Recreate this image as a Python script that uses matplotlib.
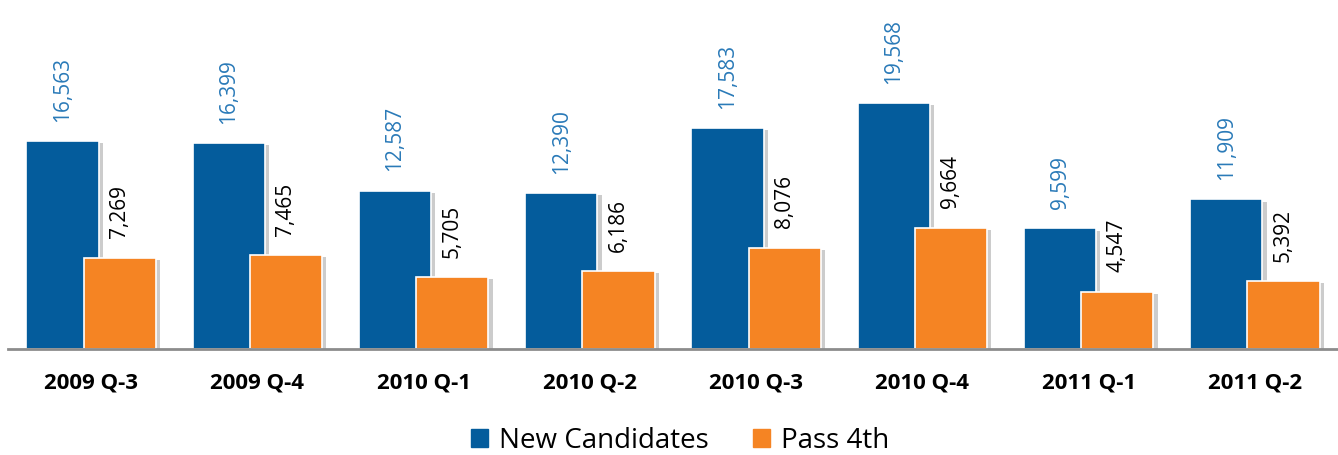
import numpy as np
import matplotlib.pyplot as plt
import matplotlib.patheffects as pe
from matplotlib.patches import Patch

quarters = ["2009 Q-3", "2009 Q-4", "2010 Q-1", "2010 Q-2",
            "2010 Q-3", "2010 Q-4", "2011 Q-1", "2011 Q-2"]
new_candidates = [16563, 16399, 12587, 12390, 17583, 19568, 9599, 11909]
pass_4th = [7269, 7465, 5705, 6186, 8076, 9664, 4547, 5392]

blue = "#045C9C"
orange = "#F58423"

plt.rcParams['font.family'] = ['Open Sans', 'DejaVu Sans']

fig = plt.figure(figsize=(13.38, 4.55), dpi=100)
ax = fig.add_axes([8 / 1338, 1 - 349 / 455, 1330 / 1338, 349 / 455])

x = np.arange(len(quarters))
w = 0.435
off = 0.172
shadow = [pe.SimplePatchShadow(offset=(3, -1.5), shadow_rgbFace="#9a9a9a", alpha=0.5), pe.Normal()]

ax.bar(x - off, new_candidates, w, color=blue, edgecolor="white", linewidth=1.2,
       path_effects=shadow, zorder=2)
ax.bar(x + off, pass_4th, w, color=orange, edgecolor="white", linewidth=1.2,
       path_effects=shadow, zorder=3)

for xi, v in zip(x, new_candidates):
    ax.annotate(f"{v:,}", (xi - off, v), xytext=(0, 14), textcoords="offset points",
                rotation=90, ha="center", va="bottom", fontsize=15, color="#2A7AB8")
for xi, v in zip(x, pass_4th):
    ax.annotate(f"{v:,}", (xi + off, v), xytext=(0, 14), textcoords="offset points",
                rotation=90, ha="center", va="bottom", fontsize=15, color="black")

ax.set_xlim(-0.5, len(quarters) - 0.5)
ax.set_ylim(0, 27790)
ax.set_yticks([])
ax.set_xticks(x)
ax.set_xticklabels(quarters, fontsize=16, fontweight="bold")
ax.tick_params(axis="x", length=0, pad=17)
for s in ["top", "right", "left"]:
    ax.spines[s].set_visible(False)
ax.spines["bottom"].set_color("#8c8c8c")
ax.spines["bottom"].set_linewidth(2)
ax.spines["bottom"].set_zorder(5)

handles = [Patch(color=blue, label="New Candidates"), Patch(color=orange, label="Pass 4th")]
fig.legend(handles=handles, loc="center", bbox_to_anchor=(680 / 1338, 1 - 441 / 455),
           ncol=2, frameon=False, fontsize=20, handlelength=0.6, handleheight=0.6,
           columnspacing=1.6, handletextpad=0.4)

fig.savefig("out.png", dpi=100)
